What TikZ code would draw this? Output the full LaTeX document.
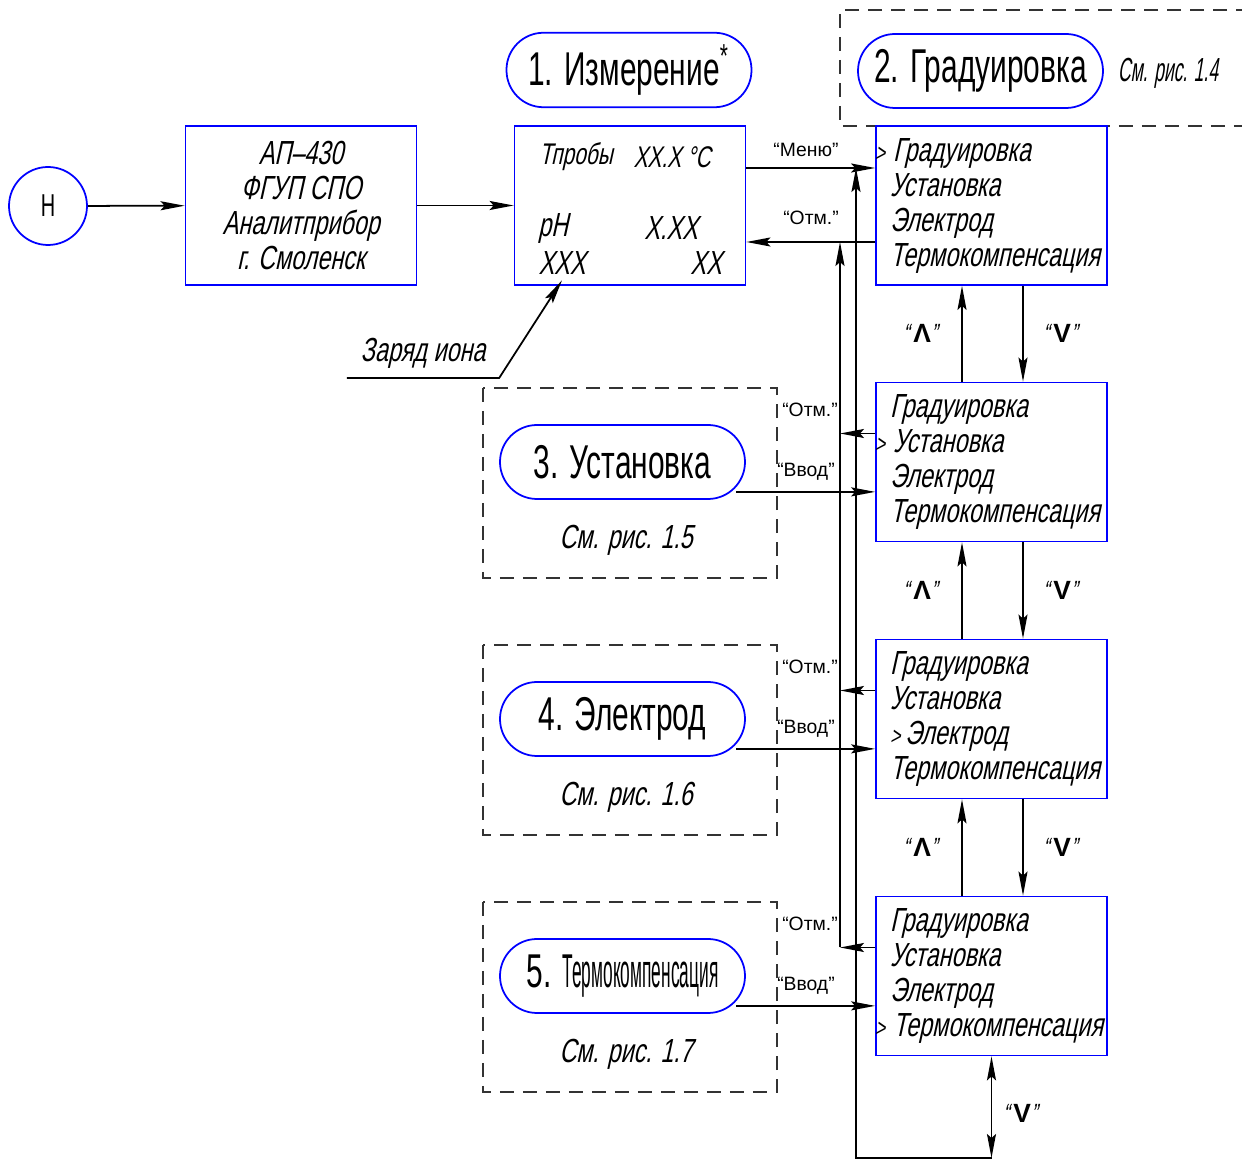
\documentclass[tikz,border=0pt]{standalone}
\usepackage{fontspec}
\usetikzlibrary{arrows.meta,calc}

\newfontfamily\gostup[FakeStretch=0.63]{Liberation Sans}
\newfontfamily\gostit[FakeStretch=0.7,FakeSlant=0.22]{Liberation Sans}
\newfontfamily\gostsm{Liberation Sans}
\newcommand{\selin}{{\fontsize{7pt}{7pt}\selectfont>}\kern0.5mm}
\newcommand{\sel}{\leavevmode\llap{\selin}\kern0.3mm}

\tikzset{
    arr/.style={-{Stealth[length=2.4mm,width=0.9mm,inset=0.4mm]}},
    blk/.style={draw=blue, rectangle, minimum width=23.1mm, minimum height=15.9mm, inner sep=0},
    menu/.style={blk, text width=20.3mm, inner xsep=1.4mm, align=left, font=\gostit\fontsize{9.5pt}{9.96pt}\selectfont},
    rnd/.style={draw=blue, rounded corners=3.7mm, minimum width=24.5mm, minimum height=7.4mm, font=\gostup\fontsize{13.5pt}{14pt}\selectfont},
    itf/.style={font=\gostit\fontsize{9.5pt}{9.96pt}\selectfont, inner sep=0.5mm},
    lbl/.style={font=\gostsm\fontsize{5.5pt}{6pt}\selectfont, inner sep=0},
    chev/.style={font=\gostit\fontsize{7.5pt}{7.5pt}\selectfont, inner sep=0},
    dashframe/.style={draw=black!80, dash pattern=on 1.4mm off 0.9mm},
}

\begin{document}
\begin{tikzpicture}[x=0.1mm, y=-0.1mm, line width=0.5pt]
    \useasboundingbox (0,0) rectangle (1242,1160);
    % Start and manufacturer
    \node[draw=blue, circle, minimum size=7.8mm, inner sep=0, font=\gostup\fontsize{9pt}{9pt}\selectfont] (start) at (48,206) {Н};
    \node[blk, align=center, font=\gostit\fontsize{9.5pt}{9.96pt}\selectfont] (ap) at (301,205.5) {АП–430\\ФГУП СПО\\Аналитприбор\\г. Смоленск};
    % Measurement display
    \node[blk] (disp) at (630,205.5) {};
    \node[itf, font=\gostit\fontsize{8.5pt}{9pt}\selectfont] (tp) at (576,157) {Тпробы};
    \node[itf, font=\gostit\fontsize{8.5pt}{9pt}\selectfont] (tv) at (672,157) {XX.X °C};
    \node[itf] (ph) at (553,228) {pH};
    \node[itf] (phv) at (671,228) {X.XX};
    \node[itf] (xxx) at (562,263) {XXX};
    \node[itf] (xx) at (706,263) {XX};
    \draw[arr] (start) -- (ap);
    \draw[arr] (ap) -- (disp);
    % Headings
    \node[rnd] (h1) at (629,70) {1. Измерение\textsuperscript{*}};
    \draw[dashframe] (1250,10) -- (840,10) -- (840,126) -- (1250,126);
    \node[rnd] (h2) at (980.5,71) {2. Градуировка};
    \node[itf] (r2) at (1168,73) {\scalebox{0.75}[1]{См. рис. 1.4}};
    % Menu states
    \foreach \n/\y/\la/\lb/\lc/\ld in {
        2/205.5/\sel Градуировка/Установка/Электрод/Термокомпенсация,
        3/462/Градуировка/\sel Установка/Электрод/Термокомпенсация,
        4/719/Градуировка/Установка/\selin Электрод/Термокомпенсация,
        5/976/Градуировка/Установка/Электрод/\sel Термокомпенсация
    } {
        \node[menu] (m\n) at (991.5,\y) {\la\\\lb\\\lc\\\ld};
    }
    \coordinate (busA) at (840,242);
    \coordinate (busB) at (856,168);
    \coordinate (bot) at (991.5,1158);
    % Display <-> menu
    \draw[arr] ([yshift=3.75mm]disp.east) -- ([yshift=3.75mm]m2.west);
    \node[lbl] at (806,150) {“Меню”};
    \draw[arr] ([yshift=-3.65mm]m2.west) -- ([yshift=-3.65mm]disp.east);
    \node[lbl] at (811,218) {“Отм.”};
    % Up / down between states
    \foreach \n/\k in {2/3,3/4,4/5} {
        \draw[arr] ([xshift=-2.95mm]m\k.north) -- ([xshift=-2.95mm]m\n.south);
        \draw[arr] ([xshift=3.15mm]m\n.south) -- ([xshift=3.15mm]m\k.north);
        \node[chev] at ($([xshift=-7.15mm]m\n.south)!0.5!([xshift=-7.15mm]m\k.north)$) {“\,{\gostsm\bfseries Λ}”};
        \node[chev] at ($([xshift=6.85mm]m\n.south)!0.5!([xshift=6.85mm]m\k.north)$) {“\,{\gostsm\bfseries V}”};
    }
    % Sub-modes
    \foreach \n/\y/\t/\r in {3/462/Установка/1.5, 4/719/Электрод/1.6, 5/976/\scalebox{0.58}[1]{Термокомпенсация}/1.7} {
        \draw[dashframe] (483,\y-74) rectangle (777,\y+116);
        \node[rnd] (u\n) at (622.5,\y) {\n. \t};
        \node[itf] (r\n) at (626,\y+78) {См. рис. \r};
        \coordinate (v\n) at ([shift={(-9.5,-8)}]u\n.south east);
        \draw[arr] (v\n) -- (v\n -| m\n.west);
        \node[lbl] at (806,\y+10) {“Ввод”};
        \draw[arr] ([yshift=2.85mm]m\n.west) -- ([yshift=2.85mm]m\n.west -| busA);
        \node[lbl] at (810,\y-52) {“Отм.”};
    }
    % Return lines
    \draw[arr] ([yshift=2.85mm]m5.west -| busA) -- (busA);
    \draw[{Stealth[length=2.4mm,width=0.9mm,inset=0.4mm]}-{Stealth[length=2.4mm,width=0.9mm,inset=0.4mm]}] (m5.south) -- (bot);
    \draw[arr] (bot) -- (bot -| busB) -- (busB);
    \node[chev] at (1020,1113) {“\,{\gostsm\bfseries V}”};
    % Ion charge note
    \node[itf, inner xsep=1.3mm, inner ysep=0.9mm] (zar) at (423,353) {Заряд иона};
    \draw[arr] (zar.south west) -- (zar.south east) -- (xxx.south);
\end{tikzpicture}
\end{document}
